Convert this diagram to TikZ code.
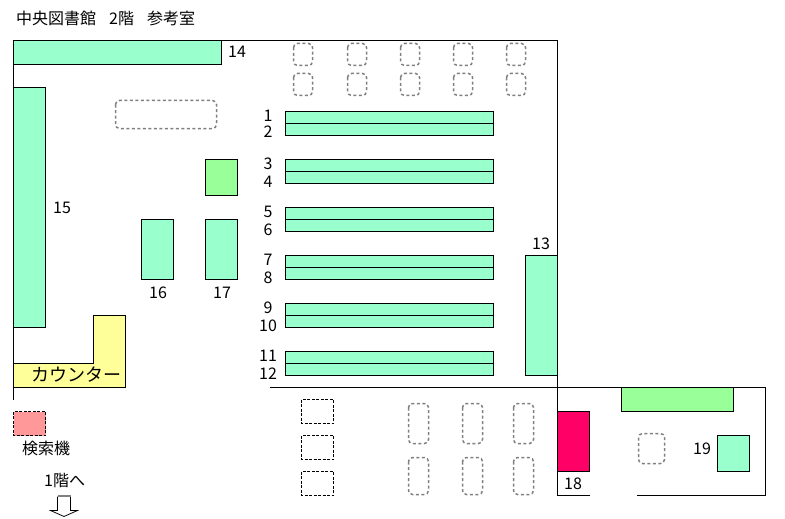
\documentclass[tikz,border=0pt]{standalone}
\usepackage{fontspec}
\setmainfont{Noto Sans CJK JP}
\definecolor{shelf}{HTML}{99FFCC}
\definecolor{lgreen}{HTML}{99FF99}
\definecolor{cyellow}{HTML}{FFFF99}
\definecolor{cpink}{HTML}{FF9999}
\definecolor{cmag}{HTML}{FF0066}
\definecolor{dgray}{HTML}{808080}
\tikzset{
  wall/.style={draw=black,line width=1pt},
  box/.style={draw=black,line width=1pt,fill=#1},
  seat/.style={draw=dgray,line width=1.5pt,dash pattern=on 3pt off 2.5pt,rounded corners=4pt},
  table/.style={draw=black,line width=1pt,dash pattern=on 3pt off 1.5pt},
  lbl/.style={inner sep=0pt,font=\fontsize{16}{16}\selectfont,text=black},
  wide/.style={inner sep=0pt,font=\fontsize{18}{18}\selectfont,text=black}
}
\newcommand{\rr}[4]{(#1,#3) rectangle (#2,#4)}
\begin{document}
\begin{tikzpicture}[x=1pt,y=-1pt]
\useasboundingbox (0,0) rectangle (785,519);
\fill[white] (0,0) rectangle (785,519);
\begin{scope}[shift={(0.5,0.5)}]
% shelves and furniture
\draw[box=shelf] \rr{13}{221}{40}{64};
\draw[box=shelf] \rr{13}{45}{87}{327};
\draw[box=lgreen] \rr{205}{237}{159}{195};
\draw[box=shelf] \rr{141}{173}{219}{279};
\draw[box=shelf] \rr{205}{237}{219}{279};
\draw[box=cyellow] (13,363) -- (93,363) -- (93,315) -- (125,315) -- (125,387) -- (13,387) -- cycle;
\draw[box=shelf] \rr{525}{557}{255}{375};
\foreach \y in {111,159,207,255,303,351}{
  \draw[box=shelf] \rr{285}{493}{\y}{\y+24};
  \draw[wall] (285,\y+12) -- (493,\y+12);
}
\draw[box=cmag] \rr{557}{589}{411}{471};
\draw[box=lgreen] \rr{621}{733}{387}{411};
\draw[box=shelf] \rr{717}{749}{435}{471};
\draw[table,fill=cpink] \rr{13}{45}{411}{435};
% walls
\draw[wall] (13,399) -- (13,40) -- (557,40) -- (557,495) -- (589,495);
\draw[wall] (269,387) -- (765,387) -- (765,495) -- (636,495);
% seats
\draw[seat] \rr{115}{216}{100}{128};
\foreach \x/\w in {293/19,347/19,400/19,453/19,506/19}{
  \draw[seat] \rr{\x}{\x+\w}{43}{65};
  \draw[seat] \rr{\x}{\x+\w}{73}{95};
}
\foreach \x in {408,462,513}{
  \draw[seat] \rr{\x}{\x+20}{403}{443};
  \draw[seat] \rr{\x}{\x+20}{457}{494};
}
\draw[seat] \rr{638}{664}{433}{463};
\foreach \y in {399,435,471}{
  \draw[table] \rr{301}{333}{\y}{\y+24};
}
% arrow
\draw[draw=black,line width=0.8pt,fill=white] (57,496) -- (57,510) -- (50,510) -- (63.5,516) -- (77,510) -- (70,510) -- (70,496);
\draw[draw=dgray,line width=1.5pt] (57,495.5) -- (70,495.5);
\end{scope}
% labels
\node[lbl,anchor=west] (title) at (16,18) {中央図書館\hspace{13pt}2階\hspace{13pt}参考室};
\node[lbl] (n14) at (237,52) {14};
\node[lbl] (n15) at (62,208) {15};
\node[lbl] (n16) at (158,293) {16};
\node[lbl] (n17) at (222,293) {17};
\node[lbl] (n13) at (541,244) {13};
\node[lbl] (n18) at (573,484) {18};
\node[lbl] (n19) at (702,449) {19};
\node[lbl] (n1) at (268,116) {1};
\node[lbl] (n2) at (268,132) {2};
\node[lbl] (n3) at (268,164) {3};
\node[lbl] (n4) at (268,182) {4};
\node[lbl] (n5) at (268,212) {5};
\node[lbl] (n6) at (268,230) {6};
\node[lbl] (n7) at (268,260) {7};
\node[lbl] (n8) at (268,278) {8};
\node[lbl] (n9) at (268,308) {9};
\node[lbl] (n10) at (268,326) {10};
\node[lbl] (n11) at (268,356) {11};
\node[lbl] (n12) at (268,374) {12};
\node[wide,anchor=west] (counter) at (31,375) {カウンター};
\node[lbl,anchor=west] (search) at (22,448) {検索機};
\node[lbl,anchor=west] (down) at (44,481) {1階へ};
\end{tikzpicture}
\end{document}
